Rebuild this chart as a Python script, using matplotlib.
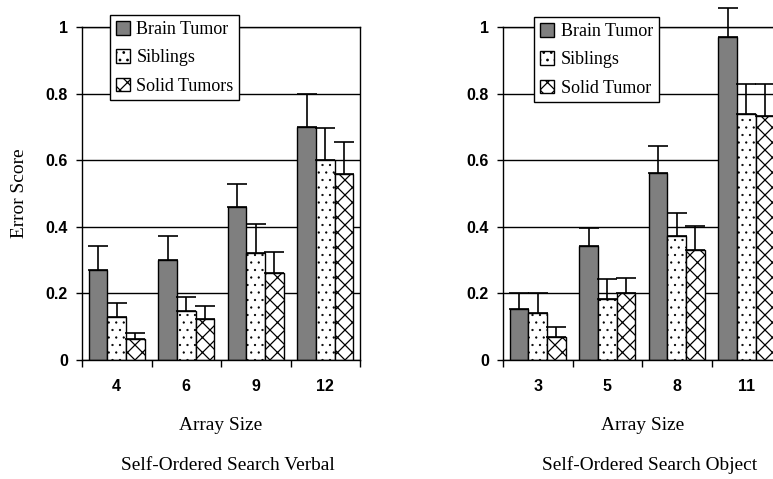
import numpy as np
import matplotlib
matplotlib.use('Agg')
import matplotlib.pyplot as plt

# Self-Ordered Search Verbal
verbal_sizes = ['4', '6', '9', '12']
verbal_brain = [0.27, 0.30, 0.46, 0.70]
verbal_brain_err = [0.072, 0.072, 0.07, 0.098]
verbal_sib = [0.13, 0.148, 0.32, 0.60]
verbal_sib_err = [0.042, 0.042, 0.087, 0.097]
verbal_solid = [0.062, 0.122, 0.26, 0.56]
verbal_solid_err = [0.018, 0.04, 0.065, 0.095]

# Self-Ordered Search Object
object_sizes = ['3', '5', '8', '11']
object_brain = [0.152, 0.342, 0.562, 0.97]
object_brain_err = [0.048, 0.055, 0.081, 0.088]
object_sib = [0.14, 0.182, 0.372, 0.74]
object_sib_err = [0.06, 0.06, 0.07, 0.09]
object_solid = [0.068, 0.20, 0.33, 0.733]
object_solid_err = [0.032, 0.047, 0.072, 0.097]

SANS = 'Liberation Sans'
SERIF = 'Liberation Serif'
W, H = 773, 479
DPI = 90  # hatch tile follows dpi, 90 gives spacing close to the original


def pt(v):
    # sizes below were worked out for dpi 100
    return v * 100 / DPI


fig = plt.figure(figsize=(W / DPI, H / DPI), dpi=DPI)


def panel(rect, sizes, series, labels, legend_anchor):
    ax = fig.add_axes(rect)
    x = np.arange(len(sizes))
    bw = 0.8 / 3
    styles = [dict(facecolor='#7f7f7f', hatch=None, hlw=1.0),
              dict(facecolor='white', hatch='..', hlw=0.5),
              dict(facecolor='white', hatch='xx', hlw=0.9)]
    for k, ((vals, errs), lab, st) in enumerate(zip(series, labels, styles)):
        xs = x + (k - 1) * bw
        plt.rcParams['hatch.linewidth'] = pt(st['hlw'])
        bars = ax.bar(xs, vals, bw, color=st['facecolor'], edgecolor='black',
                      linewidth=pt(1.0), hatch=st['hatch'], label=lab, zorder=2)
        for b in bars:
            if hasattr(b, 'set_hatch_linewidth'):
                b.set_hatch_linewidth(pt(st['hlw']))
        ax.errorbar(xs, vals, yerr=[np.zeros(len(errs)), errs], fmt='none',
                    ecolor='black', elinewidth=pt(1.2), capsize=pt(7),
                    capthick=pt(1.2), zorder=3, clip_on=False)
    ax.set_xlim(-0.5, len(sizes) - 0.5)
    ax.set_ylim(0, 1)
    ax.set_axisbelow(True)
    ax.yaxis.grid(True, color='black', linewidth=pt(1.0))
    ax.set_yticks([0, 0.2, 0.4, 0.6, 0.8, 1.0])
    ax.set_yticklabels(['0', '0.2', '0.4', '0.6', '0.8', '1'])
    ax.set_xticks(np.arange(len(sizes) + 1) - 0.5)
    ax.set_xticklabels([])
    ax.set_xticks(x, minor=True)
    ax.set_xticklabels(sizes, minor=True)
    ax.tick_params(axis='x', which='major', length=pt(5), width=pt(1),
                   direction='out')
    ax.tick_params(axis='x', which='minor', length=0, pad=pt(14))
    ax.tick_params(axis='y', length=pt(4.5), width=pt(1), pad=pt(5.5))
    for lab in ax.get_xticklabels(minor=True) + ax.get_yticklabels():
        lab.set_fontfamily(SANS)
        lab.set_fontweight('bold')
        lab.set_fontsize(pt(11.5))
    for sp in ax.spines.values():
        sp.set_linewidth(pt(1.0))
        sp.set_color('black')
    leg = ax.legend(loc='upper left', bbox_to_anchor=legend_anchor,
                    prop={'family': SERIF, 'size': pt(13)}, frameon=True,
                    fancybox=False, framealpha=1, edgecolor='black',
                    handlelength=0.8, handleheight=0.8, handletextpad=0.35,
                    labelspacing=0.62, borderpad=0.32, borderaxespad=0)
    leg.get_frame().set_linewidth(pt(1.0))
    leg.set_zorder(5)
    return ax


ax1 = panel([82 / W, 1 - 360 / H, 278 / W, 333 / H], verbal_sizes,
            [(verbal_brain, verbal_brain_err), (verbal_sib, verbal_sib_err),
             (verbal_solid, verbal_solid_err)],
            ['Brain Tumor', 'Siblings', 'Solid Tumors'], (0.10, 1.036))
ax2 = panel([503 / W, 1 - 360 / H, 278 / W, 333 / H], object_sizes,
            [(object_brain, object_brain_err), (object_sib, object_sib_err),
             (object_solid, object_solid_err)],
            ['Brain Tumor', 'Siblings', 'Solid Tumor'], (0.1115, 1.03))

fig.text(20 / W, 1 - 193 / H, 'Error Score', rotation=90, ha='center',
         va='center', family=SERIF, fontsize=pt(14))
fig.text(221 / W, 1 - 425 / H, 'Array Size', ha='center', va='center',
         family=SERIF, fontsize=pt(14))
fig.text(643 / W, 1 - 425 / H, 'Array Size', ha='center', va='center',
         family=SERIF, fontsize=pt(14))
fig.text(228 / W, 1 - 465 / H, 'Self-Ordered Search Verbal', ha='center',
         va='center', family=SERIF, fontsize=pt(14))
fig.text(650 / W, 1 - 465 / H, 'Self-Ordered Search Object', ha='center',
         va='center', family=SERIF, fontsize=pt(14))

fig.savefig('out.png', dpi=DPI, facecolor='white')
